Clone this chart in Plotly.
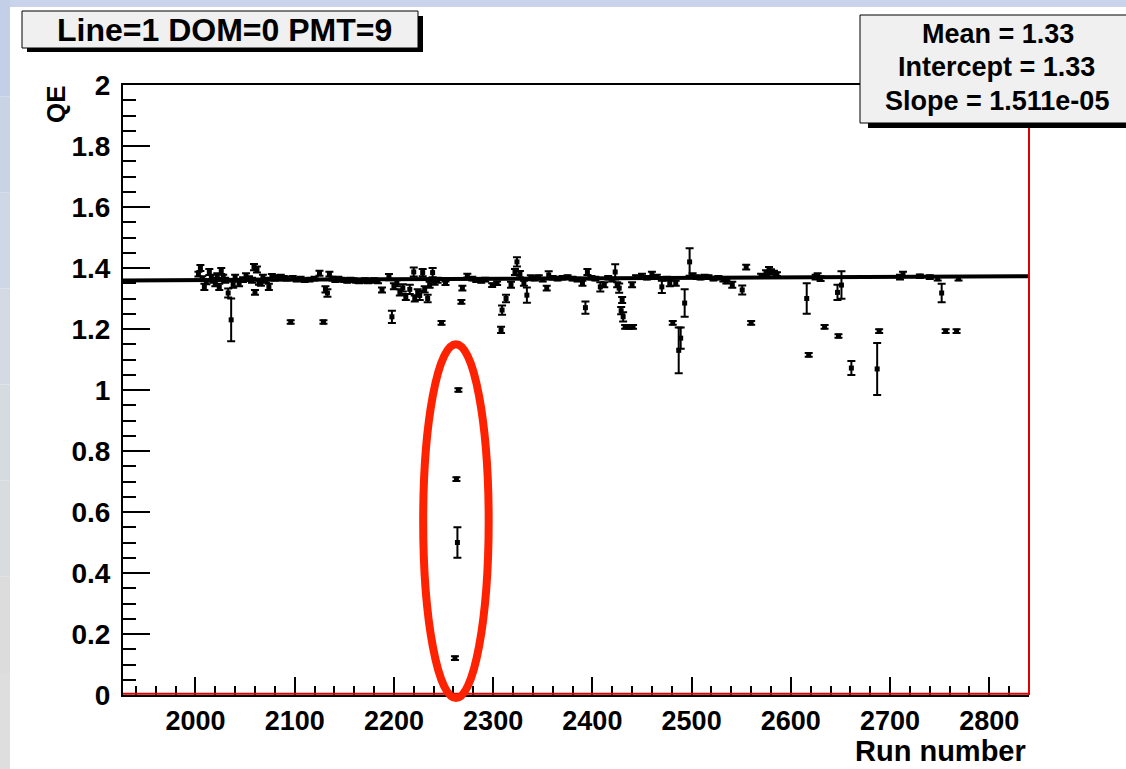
import plotly.graph_objects as go

# ---------------- data ----------------
run = [2003, 2005, 2007, 2009, 2011, 2014, 2016, 2018, 2020, 2022, 2024, 2026, 2028, 2030, 2033, 2036,
       2038, 2040, 2044, 2048, 2051, 2054, 2057, 2059, 2060, 2062, 2064, 2066, 2068, 2071, 2074, 2077,
       2080, 2083, 2086, 2089, 2092, 2096, 2098, 2102, 2106, 2110, 2115, 2120, 2125, 2129, 2131, 2133,
       2135, 2138, 2141, 2144, 2147, 2150, 2153, 2156, 2159, 2162, 2165, 2168, 2171, 2174, 2177, 2180,
       2184, 2188, 2195, 2198, 2200, 2203, 2206, 2209, 2212, 2216, 2220, 2221, 2224, 2226, 2229, 2231,
       2234, 2236, 2239, 2241, 2244, 2248, 2252, 2261.5, 2263, 2264, 2265, 2268, 2269, 2274, 2279, 2283,
       2288, 2292, 2299, 2304, 2308, 2309, 2313, 2318, 2322, 2324, 2327, 2331, 2334, 2338, 2342, 2346,
       2350, 2354, 2356, 2360, 2365, 2370, 2375, 2380, 2385, 2390, 2393, 2395, 2399, 2403, 2408, 2412,
       2416, 2420, 2423, 2425, 2427, 2429, 2430, 2431, 2433, 2437, 2440, 2441, 2444, 2450, 2455, 2460,
       2465, 2470, 2475, 2478, 2481, 2484, 2487, 2489, 2493, 2498, 2501, 2505, 2509, 2513, 2517, 2522,
       2527, 2532, 2535, 2541, 2551, 2555, 2560, 2570, 2575, 2578, 2580, 2583, 2586, 2616, 2618, 2625,
       2627, 2630, 2634, 2647, 2648, 2651, 2661, 2687, 2689, 2710, 2713, 2730, 2740, 2748, 2752, 2756,
       2767, 2769]
qe = [1.380, 1.400, 1.365, 1.338, 1.355, 1.387, 1.370, 1.360, 1.350, 1.375, 1.338, 1.390, 1.370, 1.360, 1.318, 1.230,
      1.345, 1.370, 1.350, 1.362, 1.375, 1.365, 1.360, 1.403, 1.320, 1.395, 1.355, 1.350, 1.370, 1.360, 1.338, 1.372,
      1.365, 1.370, 1.372, 1.368, 1.365, 1.223, 1.368, 1.362, 1.365, 1.360, 1.362, 1.365, 1.383, 1.223, 1.330, 1.318,
      1.380, 1.365, 1.360, 1.365, 1.362, 1.360, 1.358, 1.362, 1.360, 1.358, 1.356, 1.358, 1.360, 1.356, 1.358, 1.360,
      1.356, 1.328, 1.370, 1.240, 1.340, 1.350, 1.320, 1.335, 1.305, 1.330, 1.387, 1.300, 1.320, 1.310, 1.385, 1.330,
      1.300, 1.345, 1.385, 1.355, 1.360, 1.220, 1.350, 0.121, 0.708, 0.500, 1.000, 1.289, 1.334, 1.375, 1.365, 1.360,
      1.358, 1.362, 1.344, 1.350, 1.197, 1.262, 1.300, 1.345, 1.387, 1.420, 1.380, 1.350, 1.311, 1.368, 1.365, 1.370,
      1.362, 1.334, 1.377, 1.368, 1.365, 1.368, 1.370, 1.365, 1.362, 1.350, 1.270, 1.387, 1.368, 1.365, 1.338, 1.345,
      1.368, 1.362, 1.387, 1.345, 1.334, 1.260, 1.295, 1.240, 1.207, 1.207, 1.345, 1.207, 1.370, 1.375, 1.368, 1.380,
      1.372, 1.338, 1.365, 1.350, 1.220, 1.350, 1.130, 1.170, 1.285, 1.420, 1.375, 1.370, 1.368, 1.372, 1.370, 1.365,
      1.368, 1.362, 1.355, 1.345, 1.328, 1.403, 1.220, 1.375, 1.385, 1.395, 1.388, 1.385, 1.380, 1.300, 1.115, 1.370,
      1.375, 1.365, 1.207, 1.320, 1.177, 1.344, 1.072, 1.069, 1.193, 1.370, 1.380, 1.373, 1.370, 1.365, 1.318, 1.193,
      1.193, 1.365]
qe_err = [0.008, 0.010, 0.008, 0.010, 0.008, 0.010, 0.008, 0.008, 0.010, 0.008, 0.010, 0.010, 0.008, 0.008, 0.015, 0.070,
          0.010, 0.008, 0.010, 0.008, 0.008, 0.008, 0.008, 0.010, 0.008, 0.010, 0.010, 0.008, 0.008, 0.008, 0.010, 0.008,
          0.006, 0.006, 0.006, 0.006, 0.006, 0.006, 0.006, 0.006, 0.006, 0.006, 0.006, 0.006, 0.008, 0.006, 0.010, 0.012,
          0.008, 0.006, 0.006, 0.006, 0.006, 0.006, 0.006, 0.006, 0.006, 0.006, 0.006, 0.006, 0.006, 0.006, 0.006, 0.006,
          0.006, 0.008, 0.010, 0.020, 0.010, 0.010, 0.010, 0.012, 0.010, 0.015, 0.015, 0.010, 0.010, 0.015, 0.012, 0.010,
          0.012, 0.010, 0.015, 0.010, 0.008, 0.006, 0.006, 0.006, 0.006, 0.050, 0.006, 0.006, 0.008, 0.006, 0.006, 0.006,
          0.006, 0.006, 0.006, 0.006, 0.010, 0.015, 0.012, 0.010, 0.010, 0.015, 0.010, 0.008, 0.025, 0.008, 0.006, 0.006,
          0.006, 0.008, 0.012, 0.006, 0.006, 0.006, 0.006, 0.006, 0.006, 0.008, 0.020, 0.010, 0.006, 0.006, 0.015, 0.008,
          0.006, 0.006, 0.025, 0.008, 0.015, 0.012, 0.010, 0.015, 0.006, 0.006, 0.008, 0.006, 0.006, 0.006, 0.006, 0.008,
          0.006, 0.020, 0.006, 0.010, 0.006, 0.008, 0.075, 0.035, 0.045, 0.045, 0.008, 0.006, 0.006, 0.006, 0.006, 0.006,
          0.006, 0.006, 0.006, 0.010, 0.015, 0.008, 0.006, 0.006, 0.008, 0.008, 0.008, 0.006, 0.006, 0.050, 0.006, 0.008,
          0.008, 0.008, 0.006, 0.025, 0.006, 0.045, 0.023, 0.085, 0.006, 0.008, 0.008, 0.006, 0.006, 0.006, 0.030, 0.006,
          0.006, 0.006]

fit_mean = 1.33
fit_intercept = 1.33
fit_slope = 1.511e-05

x_range = [1927, 2840]
y_range = [0, 2]
x_ticks = [2000, 2100, 2200, 2300, 2400, 2500, 2600, 2700, 2800]
y_ticks = [0, 0.2, 0.4, 0.6, 0.8, 1, 1.2, 1.4, 1.6, 1.8, 2]
y_ticklabels = ["0", "0.2", "0.4", "0.6", "0.8", "1", "1.2", "1.4", "1.6", "1.8", "2"]

title_text = "Line=1 DOM=0 PMT=9"
stats_lines = ["Mean = %.2f" % fit_mean, "Intercept = %.2f" % fit_intercept, "Slope = %.3e" % fit_slope]

# highlighted group of outliers (ellipse centre / half-sizes in data units)
ellipse_center = (2262.5, 0.57)
ellipse_half = (33.0, 0.58)

# ---------------- figure ----------------
W, H = 1126, 769
ML, MR, MT, MB = 123, 97, 85, 74
PW, PH = W - ML - MR, H - MT - MB


def px(xp):
    return (xp - ML) / PW


def py(yp):
    return (H - MB - yp) / PH


def xdom(v):
    return (v - x_range[0]) / (x_range[1] - x_range[0])


def ydom(v):
    return (v - y_range[0]) / (y_range[1] - y_range[0])


FONT = "Liberation Sans, Arial, Helvetica, sans-serif"

fig = go.Figure()

fit_y = [fit_intercept + fit_slope * x for x in x_range]
fig.add_trace(go.Scatter(x=x_range, y=fit_y, mode="lines",
                         line=dict(color="black", width=4), hoverinfo="skip", showlegend=False))

fig.add_trace(go.Scatter(
    x=run, y=qe, mode="markers",
    marker=dict(symbol="square", size=5, color="black"),
    error_y=dict(type="data", array=qe_err, visible=True, color="black", thickness=2, width=4),
    showlegend=False))

shapes = []
# window background strips
shapes.append(dict(type="rect", xref="paper", yref="paper", x0=px(0), x1=px(W), y0=py(7), y1=py(0),
                   fillcolor="#c9d4ec", line=dict(width=0), layer="below"))
strip_cols = ["#c3cfe7", "#c9d3e6", "#ced7e5", "#d3dae4", "#d6dbe2", "#d9dcdf", "#dcdcdc", "#dedede"]
seg = H / len(strip_cols)
for i, c in enumerate(strip_cols):
    shapes.append(dict(type="rect", xref="paper", yref="paper", x0=px(0), x1=px(10),
                       y0=py(seg * (i + 1)), y1=py(seg * i), fillcolor=c, line=dict(width=0), layer="below"))

# red frame edges (right and bottom) - drawn before the boxes so the boxes cover them
shapes.append(dict(type="line", xref="x domain", yref="y domain", x0=1, x1=1, y0=0, y1=1,
                   line=dict(color="#e00000", width=2)))
shapes.append(dict(type="line", xref="x domain", yref="y domain", x0=0, x1=1, y0=0.002, y1=0.002,
                   line=dict(color="#e00000", width=2)))

# red ellipse around the outliers (domain refs so it is not clipped at the axis)
shapes.append(dict(type="circle", xref="x domain", yref="y domain",
                   x0=xdom(ellipse_center[0] - ellipse_half[0]), x1=xdom(ellipse_center[0] + ellipse_half[0]),
                   y0=ydom(ellipse_center[1] - ellipse_half[1]), y1=ydom(ellipse_center[1] + ellipse_half[1]),
                   line=dict(color="#ff2200", width=8)))

# title box with shadow
shapes.append(dict(type="rect", xref="paper", yref="paper", x0=px(27), x1=px(423), y0=py(52), y1=py(16),
                   fillcolor="black", line=dict(width=0)))
shapes.append(dict(type="rect", xref="paper", yref="paper", x0=px(22), x1=px(418), y0=py(48), y1=py(11),
                   fillcolor="#f0f0f0", line=dict(color="black", width=1)))
# stats box with shadow
shapes.append(dict(type="rect", xref="paper", yref="paper", x0=px(868), x1=px(1140), y0=py(128), y1=py(20),
                   fillcolor="black", line=dict(width=0)))
shapes.append(dict(type="rect", xref="paper", yref="paper", x0=px(860), x1=px(1135), y0=py(123), y1=py(15),
                   fillcolor="#f0f0f0", line=dict(color="black", width=1)))

annotations = [
    dict(text="<b>%s</b>" % title_text, xref="paper", yref="paper", x=px(224), y=py(30),
         xanchor="center", yanchor="middle", showarrow=False, font=dict(family=FONT, size=32, color="black")),
    dict(text="<b>%s</b>" % stats_lines[0], xref="paper", yref="paper", x=px(998), y=py(34),
         xanchor="center", yanchor="middle", showarrow=False, font=dict(family=FONT, size=27, color="black")),
    dict(text="<b>%s</b>" % stats_lines[1], xref="paper", yref="paper", x=px(996), y=py(67),
         xanchor="center", yanchor="middle", showarrow=False, font=dict(family=FONT, size=27, color="black")),
    dict(text="<b>%s</b>" % stats_lines[2], xref="paper", yref="paper", x=px(997), y=py(101),
         xanchor="center", yanchor="middle", showarrow=False, font=dict(family=FONT, size=27, color="black")),
    dict(text="<b>QE</b>", xref="paper", yref="paper", x=px(56), y=py(104), textangle=-90,
         xanchor="center", yanchor="middle", showarrow=False, font=dict(family=FONT, size=26, color="black")),
    dict(text="<b>Run number</b>", xref="paper", yref="paper", x=px(1028), y=py(751),
         xanchor="right", yanchor="middle", showarrow=False, font=dict(family=FONT, size=29, color="black")),
]

fig.update_layout(
    width=W, height=H,
    margin=dict(l=ML, r=MR, t=MT, b=MB, pad=0),
    paper_bgcolor="white", plot_bgcolor="white",
    shapes=shapes, annotations=annotations,
    showlegend=False,
    xaxis=dict(range=x_range, tickvals=x_ticks, ticktext=[str(v) for v in x_ticks],
               ticks="inside", ticklen=18, tickwidth=1.5, tickcolor="black",
               minor=dict(dtick=20, tick0=2000, ticks="inside", ticklen=9, tickwidth=1.5, tickcolor="black"),
               showgrid=False, zeroline=False, showline=True, linecolor="black", linewidth=2, mirror=True,
               tickfont=dict(family=FONT, size=27, color="black", weight="bold"), ticklabelstandoff=1),
    yaxis=dict(range=y_range, tickvals=y_ticks, ticktext=y_ticklabels,
               ticks="inside", ticklen=27, tickwidth=1.5, tickcolor="black",
               minor=dict(dtick=0.05, tick0=0, ticks="inside", ticklen=13, tickwidth=1.5, tickcolor="black"),
               showgrid=False, zeroline=False, showline=True, linecolor="black", linewidth=2, mirror=False,
               tickfont=dict(family=FONT, size=28, color="black", weight="bold"), ticklabelstandoff=5),
)

fig.write_html("out.html", config={"displayModeBar": False},
               post_script="document.body.style.margin='0';")
